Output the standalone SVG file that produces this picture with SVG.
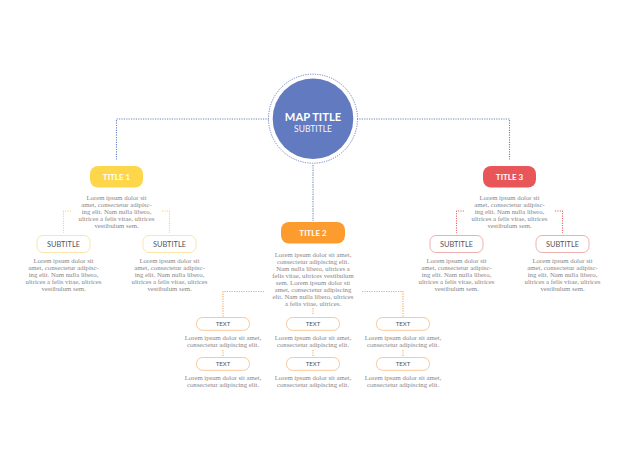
<svg xmlns="http://www.w3.org/2000/svg" width="626" height="464" viewBox="0 0 626 464">
<style>
.b{font-family:"Liberation Serif",serif;font-size:6.75px;fill:#86868a;text-anchor:middle}
.t{font-family:Lato,"Open Sans",sans-serif;text-anchor:middle}
.h{font-size:8px;font-weight:700;fill:#fff}
.s{font-size:7.4px;fill:#55555c}
.x{font-size:6px;fill:#55555c}
.c{fill:none;stroke-width:1.1;stroke-dasharray:1.2 1.2}
.pill{fill:#fff;stroke-width:1}
</style>
<rect width="626" height="464" fill="#fff"/>
<g id="connectors">
<path class="c" stroke="#6c82bc" d="M269 119H116.500V159.500M357 119H509.500V159.500M313 165V221"/>
<path class="c" stroke="#fad860" d="M71 211H63.500V233M162 211H169.500V233"/>
<path class="c" stroke="#ea6a68" d="M464 211H456.500V233M555 211H562.500V233"/>
<path class="c" stroke="#f9a85a" d="M264 291.500H223V317M362 291.500H403V317M313 308V315M223 350V356M313 350V356M403 350V356"/>
</g>
<g id="map"><circle cx="313" cy="118.700" r="44.500" fill="none" stroke="#6c82bc" stroke-dasharray="1.2 1.2"/><circle cx="313" cy="118.700" r="40.300" fill="#617ac0"/>
<text class="t" x="313" y="121" font-size="11.200" font-weight="700" fill="#fff">MAP TITLE</text><text class="t" x="313" y="131.500" font-size="8.500" fill="#f4f6fc">SUBTITLE</text></g>
<g id="title1"><rect x="90" y="166" width="53" height="21.500" rx="8" fill="#fdd64a"/><text class="t h" x="116.500" y="180">TITLE 1</text>
<text class="b"><tspan x="116.500" y="200">Lorem ipsum dolor sit</tspan><tspan x="116.500" y="207">amet, consectetur adipisc-</tspan><tspan x="116.500" y="214">ing elit. Nam nulla libero,</tspan><tspan x="116.500" y="221">ultrices a felis vitae, ultrices</tspan><tspan x="116.500" y="228">vestibulum sem.</tspan></text></g>
<g id="sub11"><rect class="pill" stroke="#fbe5a8" x="37" y="235.500" width="53" height="17" rx="6"/><text class="t s" x="63.500" y="246.800">SUBTITLE</text>
<text class="b"><tspan x="63.500" y="263">Lorem ipsum dolor sit</tspan><tspan x="63.500" y="270">amet, consectetur adipisc-</tspan><tspan x="63.500" y="277">ing elit. Nam nulla libero,</tspan><tspan x="63.500" y="284">ultrices a felis vitae, ultrices</tspan><tspan x="63.500" y="291">vestibulum sem.</tspan></text></g>
<g id="sub12"><rect class="pill" stroke="#fbe5a8" x="143" y="235.500" width="53" height="17" rx="6"/><text class="t s" x="169.500" y="246.800">SUBTITLE</text>
<text class="b"><tspan x="169.500" y="263">Lorem ipsum dolor sit</tspan><tspan x="169.500" y="270">amet, consectetur adipisc-</tspan><tspan x="169.500" y="277">ing elit. Nam nulla libero,</tspan><tspan x="169.500" y="284">ultrices a felis vitae, ultrices</tspan><tspan x="169.500" y="291">vestibulum sem.</tspan></text></g>
<g id="title3"><rect x="483" y="166" width="53" height="21.500" rx="8" fill="#e9565a"/><text class="t h" x="509.500" y="180">TITLE 3</text>
<text class="b"><tspan x="509.500" y="200">Lorem ipsum dolor sit</tspan><tspan x="509.500" y="207">amet, consectetur adipisc-</tspan><tspan x="509.500" y="214">ing elit. Nam nulla libero,</tspan><tspan x="509.500" y="221">ultrices a felis vitae, ultrices</tspan><tspan x="509.500" y="228">vestibulum sem.</tspan></text></g>
<g id="sub31"><rect class="pill" stroke="#eeb0ae" x="430" y="235.500" width="53" height="17" rx="6"/><text class="t s" x="456.500" y="246.800">SUBTITLE</text>
<text class="b"><tspan x="456.500" y="263">Lorem ipsum dolor sit</tspan><tspan x="456.500" y="270">amet, consectetur adipisc-</tspan><tspan x="456.500" y="277">ing elit. Nam nulla libero,</tspan><tspan x="456.500" y="284">ultrices a felis vitae, ultrices</tspan><tspan x="456.500" y="291">vestibulum sem.</tspan></text></g>
<g id="sub32"><rect class="pill" stroke="#eeb0ae" x="536" y="235.500" width="53" height="17" rx="6"/><text class="t s" x="562.500" y="246.800">SUBTITLE</text>
<text class="b"><tspan x="562.500" y="263">Lorem ipsum dolor sit</tspan><tspan x="562.500" y="270">amet, consectetur adipisc-</tspan><tspan x="562.500" y="277">ing elit. Nam nulla libero,</tspan><tspan x="562.500" y="284">ultrices a felis vitae, ultrices</tspan><tspan x="562.500" y="291">vestibulum sem.</tspan></text></g>
<g id="title2"><rect x="281" y="222" width="64" height="21.500" rx="8" fill="#fd9c2e"/><text class="t h" x="313" y="236">TITLE 2</text>
<text class="b"><tspan x="313" y="257">Lorem ipsum dolor sit amet,</tspan><tspan x="313" y="264">consectetur adipiscing elit.</tspan><tspan x="313" y="271">Nam nulla libero, ultrices a</tspan><tspan x="313" y="278">felis vitae, ultrices vestibulum</tspan><tspan x="313" y="285">sem. Lorem ipsum dolor sit</tspan><tspan x="313" y="292">amet, consectetur adipiscing</tspan><tspan x="313" y="299">elit. Nam nulla libero, ultrices</tspan><tspan x="313" y="306">a felis vitae, ultrices.</tspan></text></g>
<g id="t1"><rect class="pill" stroke="#f9c79a" x="196.500" y="317.500" width="53" height="12.800" rx="6"/><text class="t x" x="223" y="326.100">TEXT</text><text class="b"><tspan x="223" y="340">Lorem ipsum dolor sit amet,</tspan><tspan x="223" y="347">consectetur adipiscing elit.</tspan></text></g>
<g id="t2"><rect class="pill" stroke="#f9c79a" x="286.500" y="317.500" width="53" height="12.800" rx="6"/><text class="t x" x="313" y="326.100">TEXT</text><text class="b"><tspan x="313" y="340">Lorem ipsum dolor sit amet,</tspan><tspan x="313" y="347">consectetur adipiscing elit.</tspan></text></g>
<g id="t3"><rect class="pill" stroke="#f9c79a" x="376.500" y="317.500" width="53" height="12.800" rx="6"/><text class="t x" x="403" y="326.100">TEXT</text><text class="b"><tspan x="403" y="340">Lorem ipsum dolor sit amet,</tspan><tspan x="403" y="347">consectetur adipiscing elit.</tspan></text></g>
<g id="t4"><rect class="pill" stroke="#f9c79a" x="196.500" y="357.500" width="53" height="12.800" rx="6"/><text class="t x" x="223" y="366.100">TEXT</text><text class="b"><tspan x="223" y="380">Lorem ipsum dolor sit amet,</tspan><tspan x="223" y="387">consectetur adipiscing elit.</tspan></text></g>
<g id="t5"><rect class="pill" stroke="#f9c79a" x="286.500" y="357.500" width="53" height="12.800" rx="6"/><text class="t x" x="313" y="366.100">TEXT</text><text class="b"><tspan x="313" y="380">Lorem ipsum dolor sit amet,</tspan><tspan x="313" y="387">consectetur adipiscing elit.</tspan></text></g>
<g id="t6"><rect class="pill" stroke="#f9c79a" x="376.500" y="357.500" width="53" height="12.800" rx="6"/><text class="t x" x="403" y="366.100">TEXT</text><text class="b"><tspan x="403" y="380">Lorem ipsum dolor sit amet,</tspan><tspan x="403" y="387">consectetur adipiscing elit.</tspan></text></g>
</svg>
